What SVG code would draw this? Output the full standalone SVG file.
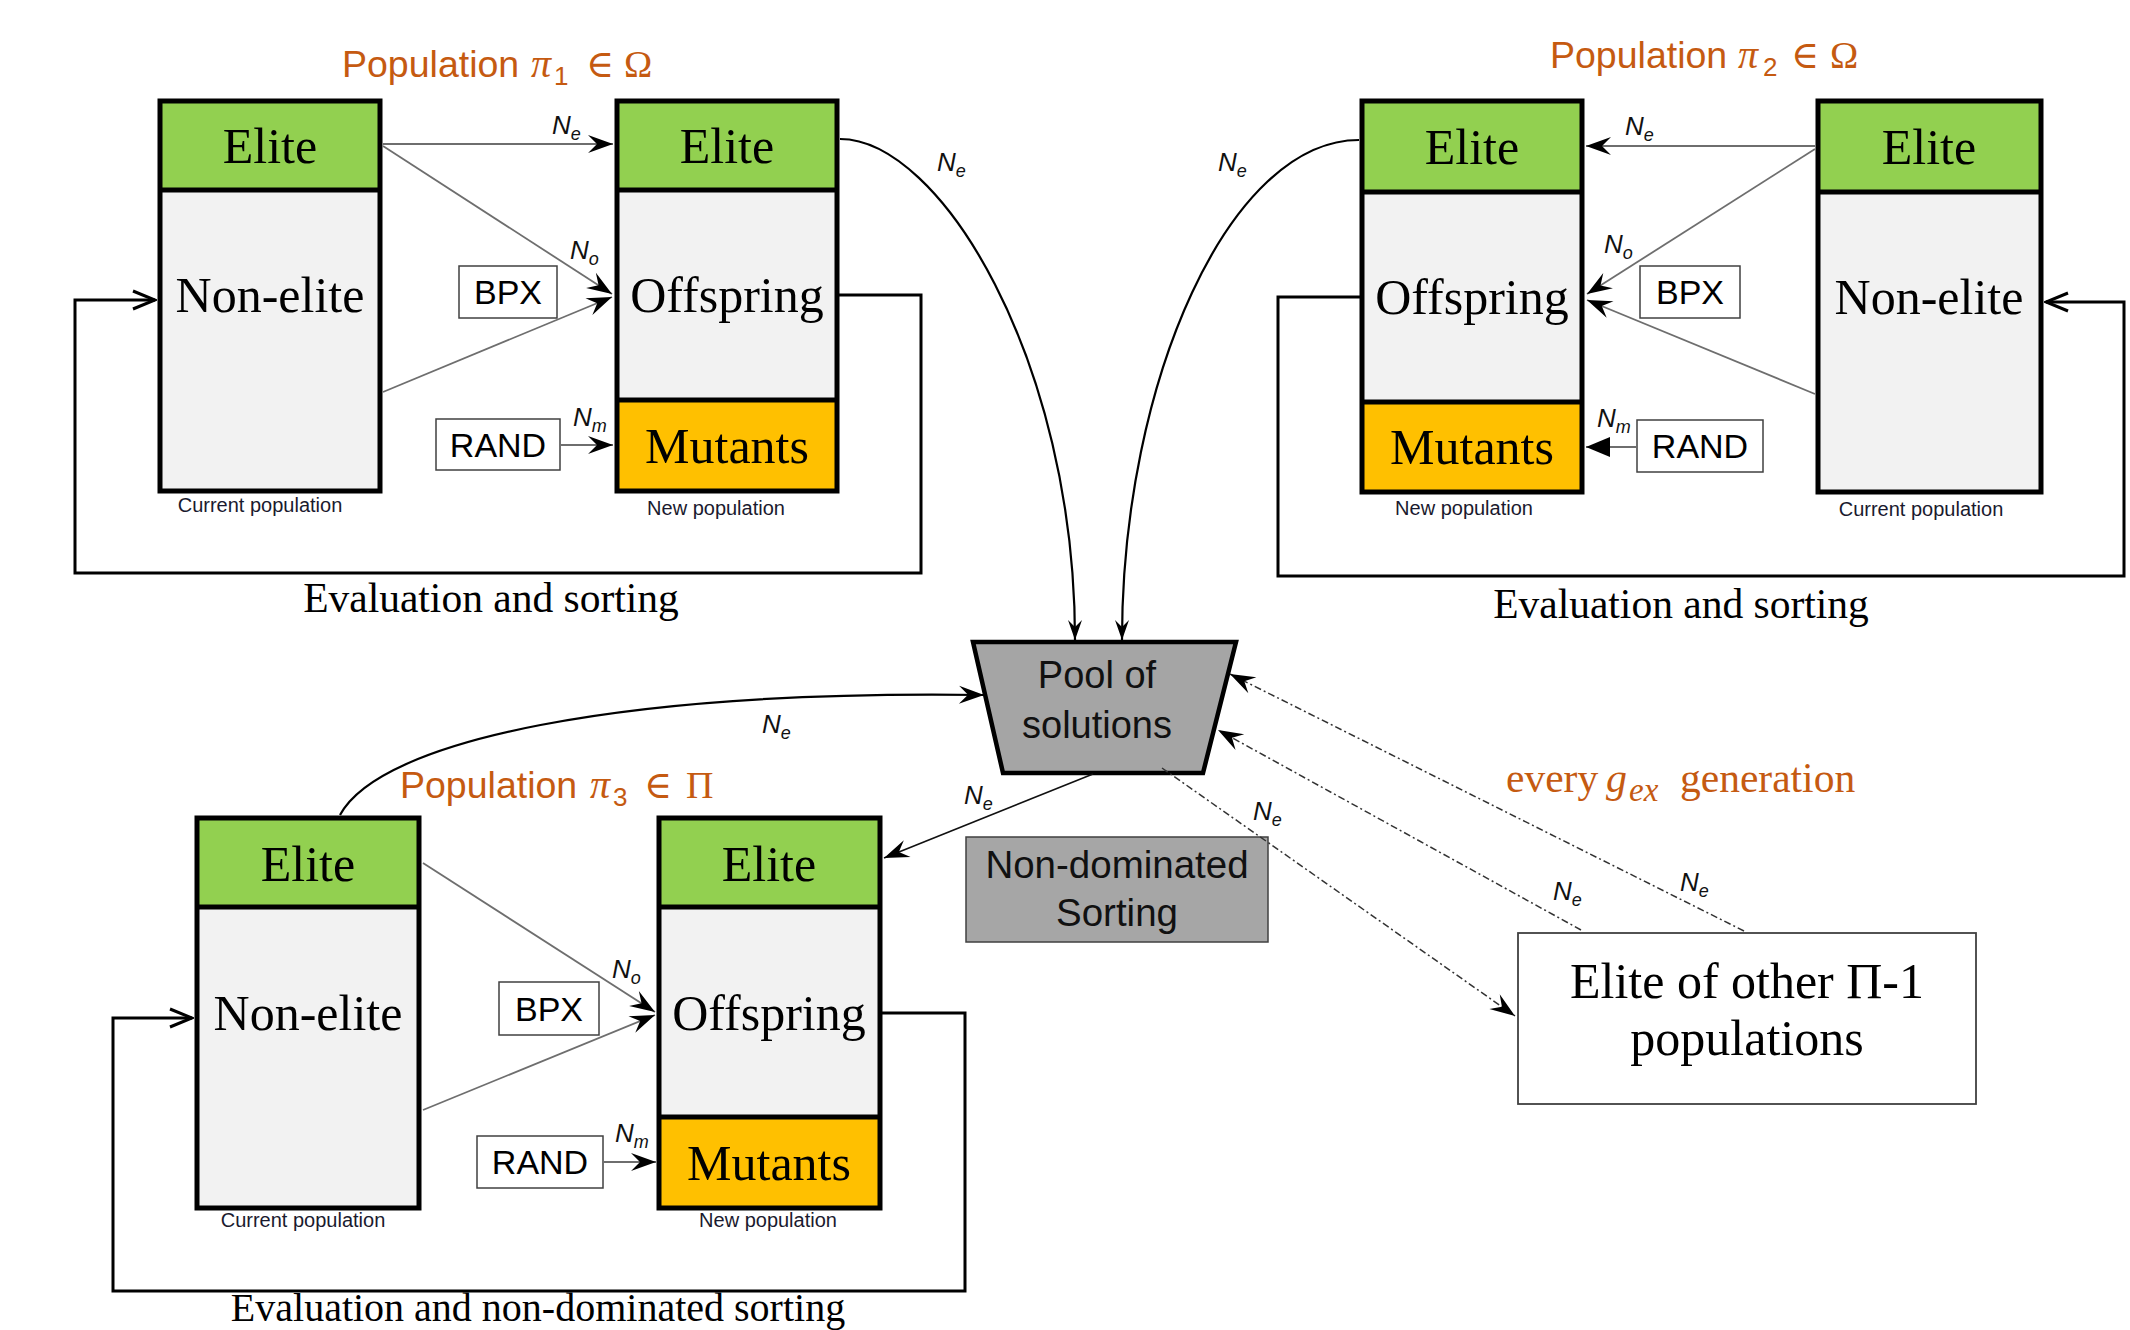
<svg xmlns="http://www.w3.org/2000/svg" width="2130" height="1330" viewBox="0 0 2130 1330">
<style>
.box{stroke:#000;stroke-width:5}
.elite{fill:#92D050}
.grey{fill:#F2F2F2}
.mut{fill:#FFC000}
.div{stroke:#000;stroke-width:5}
.big{font-family:"Liberation Serif","Times New Roman",serif;font-size:50px;fill:#000;text-anchor:middle}
.cap{font-family:"Liberation Serif","Times New Roman",serif;font-size:41.5px;fill:#000;text-anchor:middle}
.small{font-family:"Liberation Sans",Arial,sans-serif;font-size:20px;fill:#1a1a2e;text-anchor:middle}
.op{font-family:"Liberation Sans",Arial,sans-serif;font-size:34px;fill:#000;text-anchor:middle}
.opbox{fill:#fff;stroke:#404040;stroke-width:1.5}
.lbl{font-family:"Liberation Sans",Arial,sans-serif;font-style:italic;font-size:26px;fill:#111}
.sub{font-size:18px}
.title{font-family:"Liberation Sans",Arial,sans-serif;font-size:37.5px;fill:#C55A11}
.math{font-family:"Liberation Serif","DejaVu Serif",serif;font-size:38px;fill:#C55A11}
.mathi{font-family:"Liberation Serif","DejaVu Serif",serif;font-style:italic;font-size:40px;fill:#C55A11}
.msub{font-family:"Liberation Sans",Arial,sans-serif;font-size:26px;fill:#C55A11}
.thin{fill:none;stroke:#6e6e6e;stroke-width:1.8}
.curve{fill:none;stroke:#000;stroke-width:2.2}
.loop{fill:none;stroke:#000;stroke-width:3}
.dash{fill:none;stroke:#333;stroke-width:1.5;stroke-dasharray:7 3 2 3}
</style>
<defs>
<marker id="st" viewBox="-27 -11 29 22" refX="0" refY="0" markerWidth="29" markerHeight="22" markerUnits="userSpaceOnUse" orient="auto">
<path d="M0,0 L-25,-9 L-16,0 L-25,9 Z" fill="#000"/>
</marker>
<marker id="stn" viewBox="-22 -9 24 18" refX="0" refY="0" markerWidth="24" markerHeight="18" markerUnits="userSpaceOnUse" orient="auto">
<path d="M0,0 L-20,-7 L-13,0 L-20,7 Z" fill="#000"/>
</marker>
<marker id="tri" viewBox="-27 -12 29 24" refX="0" refY="0" markerWidth="29" markerHeight="24" markerUnits="userSpaceOnUse" orient="auto">
<path d="M0,0 L-24,-10 L-24,10 Z" fill="#000"/>
</marker>
<marker id="vee" viewBox="-26 -12 28 24" refX="0" refY="0" markerWidth="28" markerHeight="24" markerUnits="userSpaceOnUse" orient="auto">
<path d="M-22,-9 L0,0 L-22,9" fill="none" stroke="#000" stroke-width="3"/>
</marker>
</defs>

<!-- Population 1 -->
<g id="pop1-title">
<text class="title" x="342" y="77">Population</text>
<text class="mathi" x="531" y="77">π</text>
<text class="msub" x="554" y="85">1</text>
<text class="math" x="586" y="77">∈</text>
<text class="math" x="624" y="77">Ω</text>
</g>
<g id="pop1-current">
<rect class="elite" x="160" y="101" width="220" height="89"/>
<rect class="grey" x="160" y="190" width="220" height="301"/>
<rect class="box" x="160" y="101" width="220" height="390" fill="none"/>
<line class="div" x1="160" y1="190" x2="380" y2="190"/>
<text class="big" x="270" y="163">Elite</text>
<text class="big" x="270" y="312">Non-elite</text>
<text class="small" x="260" y="512">Current population</text>
</g>
<g id="pop1-new">
<rect class="elite" x="617" y="101" width="220" height="89"/>
<rect class="grey" x="617" y="190" width="220" height="210"/>
<rect class="mut" x="617" y="400" width="220" height="91"/>
<rect class="box" x="617" y="101" width="220" height="390" fill="none"/>
<line class="div" x1="617" y1="190" x2="837" y2="190"/>
<line class="div" x1="617" y1="400" x2="837" y2="400"/>
<text class="big" x="727" y="163">Elite</text>
<text class="big" x="727" y="312">Offspring</text>
<text class="big" x="727" y="463">Mutants</text>
<text class="small" x="716" y="515">New population</text>
</g>
<g id="pop1-bpx"><rect class="opbox" x="459" y="266" width="98" height="52"/><text class="op" x="508" y="304">BPX</text></g>
<g id="pop1-rand"><rect class="opbox" x="436" y="419" width="124" height="51"/><text class="op" x="498" y="457">RAND</text></g>
<text class="cap" x="491" y="612">Evaluation and sorting</text>

<!-- Population 2 -->
<g id="pop2-title">
<text class="title" x="1550" y="68">Population</text>
<text class="mathi" x="1738" y="68">π</text>
<text class="msub" x="1763" y="76">2</text>
<text class="math" x="1791" y="68">∈</text>
<text class="math" x="1830" y="68">Ω</text>
</g>
<g id="pop2-new">
<rect class="elite" x="1362" y="101" width="220" height="91"/>
<rect class="grey" x="1362" y="192" width="220" height="210"/>
<rect class="mut" x="1362" y="402" width="220" height="90"/>
<rect class="box" x="1362" y="101" width="220" height="391" fill="none"/>
<line class="div" x1="1362" y1="192" x2="1582" y2="192"/>
<line class="div" x1="1362" y1="402" x2="1582" y2="402"/>
<text class="big" x="1472" y="164">Elite</text>
<text class="big" x="1472" y="314">Offspring</text>
<text class="big" x="1472" y="464">Mutants</text>
<text class="small" x="1464" y="515">New population</text>
</g>
<g id="pop2-current">
<rect class="elite" x="1818" y="101" width="223" height="91"/>
<rect class="grey" x="1818" y="192" width="223" height="300"/>
<rect class="box" x="1818" y="101" width="223" height="391" fill="none"/>
<line class="div" x1="1818" y1="192" x2="2041" y2="192"/>
<text class="big" x="1929" y="164">Elite</text>
<text class="big" x="1929" y="314">Non-elite</text>
<text class="small" x="1921" y="516">Current population</text>
</g>
<g id="pop2-bpx"><rect class="opbox" x="1640" y="266" width="100" height="52"/><text class="op" x="1690" y="304">BPX</text></g>
<g id="pop2-rand"><rect class="opbox" x="1637" y="420" width="126" height="52"/><text class="op" x="1700" y="458">RAND</text></g>
<text class="cap" x="1681" y="618">Evaluation and sorting</text>

<!-- Population 3 -->
<g id="pop3-title">
<text class="title" x="400" y="798">Population</text>
<text class="mathi" x="590" y="798">π</text>
<text class="msub" x="613" y="806">3</text>
<text class="math" x="644" y="798">∈</text>
<text class="math" x="686" y="798">Π</text>
</g>
<g id="pop3-current">
<rect class="elite" x="197" y="818" width="222" height="89"/>
<rect class="grey" x="197" y="907" width="222" height="301"/>
<rect class="box" x="197" y="818" width="222" height="390" fill="none"/>
<line class="div" x1="197" y1="907" x2="419" y2="907"/>
<text class="big" x="308" y="881">Elite</text>
<text class="big" x="308" y="1030">Non-elite</text>
<text class="small" x="303" y="1227">Current population</text>
</g>
<g id="pop3-new">
<rect class="elite" x="659" y="818" width="221" height="89"/>
<rect class="grey" x="659" y="907" width="221" height="210"/>
<rect class="mut" x="659" y="1117" width="221" height="91"/>
<rect class="box" x="659" y="818" width="221" height="390" fill="none"/>
<line class="div" x1="659" y1="907" x2="880" y2="907"/>
<line class="div" x1="659" y1="1117" x2="880" y2="1117"/>
<text class="big" x="769" y="881">Elite</text>
<text class="big" x="769" y="1030">Offspring</text>
<text class="big" x="769" y="1180">Mutants</text>
<text class="small" x="768" y="1227">New population</text>
</g>
<g id="pop3-bpx"><rect class="opbox" x="499" y="982" width="100" height="53"/><text class="op" x="549" y="1021">BPX</text></g>
<g id="pop3-rand"><rect class="opbox" x="477" y="1136" width="126" height="52"/><text class="op" x="540" y="1174">RAND</text></g>
<text class="cap" x="538" y="1321" style="font-size:40px">Evaluation and non-dominated sorting</text>

<!-- Pool and exchange -->
<g id="pool">
<polygon points="973,642 1236,642 1203,773 1003,773" fill="#A5A5A5" stroke="#000" stroke-width="4.5" stroke-linejoin="miter"/>
<text class="op" x="1097" y="688" style="font-size:38px;fill:#111">Pool of</text>
<text class="op" x="1097" y="738" style="font-size:38px;fill:#111">solutions</text>
</g>
<g id="nds">
<rect x="966" y="837" width="302" height="105" fill="#A6A6A6" stroke="#404040" stroke-width="1.5"/>
<text class="op" x="1117" y="878" style="font-size:38.5px;fill:#111">Non-dominated</text>
<text class="op" x="1117" y="926" style="font-size:38.5px;fill:#111">Sorting</text>
</g>
<g id="other-elite">
<rect x="1518" y="933" width="458" height="171" fill="#fff" stroke="#404040" stroke-width="1.8"/>
<text class="big" x="1747" y="998">Elite of other Π-1</text>
<text class="big" x="1747" y="1055">populations</text>
</g>
<g id="gex-label">
<text class="cap" x="1506" y="792" style="fill:#C55A11;text-anchor:start">every</text>
<text class="mathi" x="1606" y="792" style="font-size:42px">g</text>
<text class="mathi" x="1629" y="801" style="font-size:33px">ex</text>
<text class="cap" x="1680" y="792" style="fill:#C55A11;text-anchor:start">generation</text>
</g>

<!-- Connectors -->
<g id="connectors">
<!-- pop1 -->
<line class="thin" x1="383" y1="144" x2="613" y2="144" marker-end="url(#st)"/>
<line class="thin" x1="383" y1="146" x2="612" y2="294" marker-end="url(#st)"/>
<line class="thin" x1="383" y1="392" x2="612" y2="297" marker-end="url(#st)"/>
<line class="thin" x1="560" y1="445" x2="613" y2="445" marker-end="url(#st)"/>
<path class="loop" d="M839,295 H921 V573 H75 V300 H155" marker-end="url(#vee)"/>
<!-- pop2 -->
<line class="thin" x1="1815" y1="146" x2="1586" y2="146" marker-end="url(#st)"/>
<line class="thin" x1="1815" y1="149" x2="1587" y2="294" marker-end="url(#st)"/>
<line class="thin" x1="1815" y1="394" x2="1587" y2="300" marker-end="url(#st)"/>
<line class="thin" x1="1637" y1="447" x2="1586" y2="447" marker-end="url(#tri)"/>
<path class="loop" d="M1360,297 H1278 V576 H2124 V302 H2046" marker-end="url(#vee)"/>
<!-- pop3 -->
<line class="thin" x1="423" y1="863" x2="655" y2="1012" marker-end="url(#st)"/>
<line class="thin" x1="423" y1="1110" x2="655" y2="1015" marker-end="url(#st)"/>
<line class="thin" x1="603" y1="1162" x2="656" y2="1162" marker-end="url(#st)"/>
<path class="loop" d="M882,1013 H965 V1291 H113 V1018 H192" marker-end="url(#vee)"/>
<!-- to / from pool -->
<path class="curve" d="M840,139 C940,139 1075,360 1075,640" marker-end="url(#stn)"/>
<path class="curve" d="M1359,140 C1230,140 1122,380 1122,640" marker-end="url(#stn)"/>
<path class="curve" d="M340,815 C380,740 620,690 984,695" marker-end="url(#st)"/>
<line x1="1093" y1="774" x2="884" y2="858" stroke="#111" stroke-width="1.6" marker-end="url(#st)"/>
<line class="dash" x1="1162" y1="768" x2="1515" y2="1016" marker-end="url(#st)"/>
<line class="dash" x1="1581" y1="930" x2="1218" y2="730" marker-end="url(#st)"/>
<line class="dash" x1="1744" y1="931" x2="1230" y2="674" marker-end="url(#st)"/>
</g>

<!-- Flow labels -->
<g id="labels">
<text class="lbl" x="552" y="134">N<tspan class="sub" dy="6">e</tspan></text>
<text class="lbl" x="570" y="259">N<tspan class="sub" dy="6">o</tspan></text>
<text class="lbl" x="573" y="426">N<tspan class="sub" dy="6">m</tspan></text>
<text class="lbl" x="937" y="171">N<tspan class="sub" dy="6">e</tspan></text>
<text class="lbl" x="1218" y="171">N<tspan class="sub" dy="6">e</tspan></text>
<text class="lbl" x="1625" y="135">N<tspan class="sub" dy="6">e</tspan></text>
<text class="lbl" x="1604" y="253">N<tspan class="sub" dy="6">o</tspan></text>
<text class="lbl" x="1597" y="427">N<tspan class="sub" dy="6">m</tspan></text>
<text class="lbl" x="762" y="733">N<tspan class="sub" dy="6">e</tspan></text>
<text class="lbl" x="964" y="804">N<tspan class="sub" dy="6">e</tspan></text>
<text class="lbl" x="612" y="978">N<tspan class="sub" dy="6">o</tspan></text>
<text class="lbl" x="615" y="1142">N<tspan class="sub" dy="6">m</tspan></text>
<text class="lbl" x="1253" y="820">N<tspan class="sub" dy="6">e</tspan></text>
<text class="lbl" x="1553" y="900">N<tspan class="sub" dy="6">e</tspan></text>
<text class="lbl" x="1680" y="891">N<tspan class="sub" dy="6">e</tspan></text>
</g>
</svg>
